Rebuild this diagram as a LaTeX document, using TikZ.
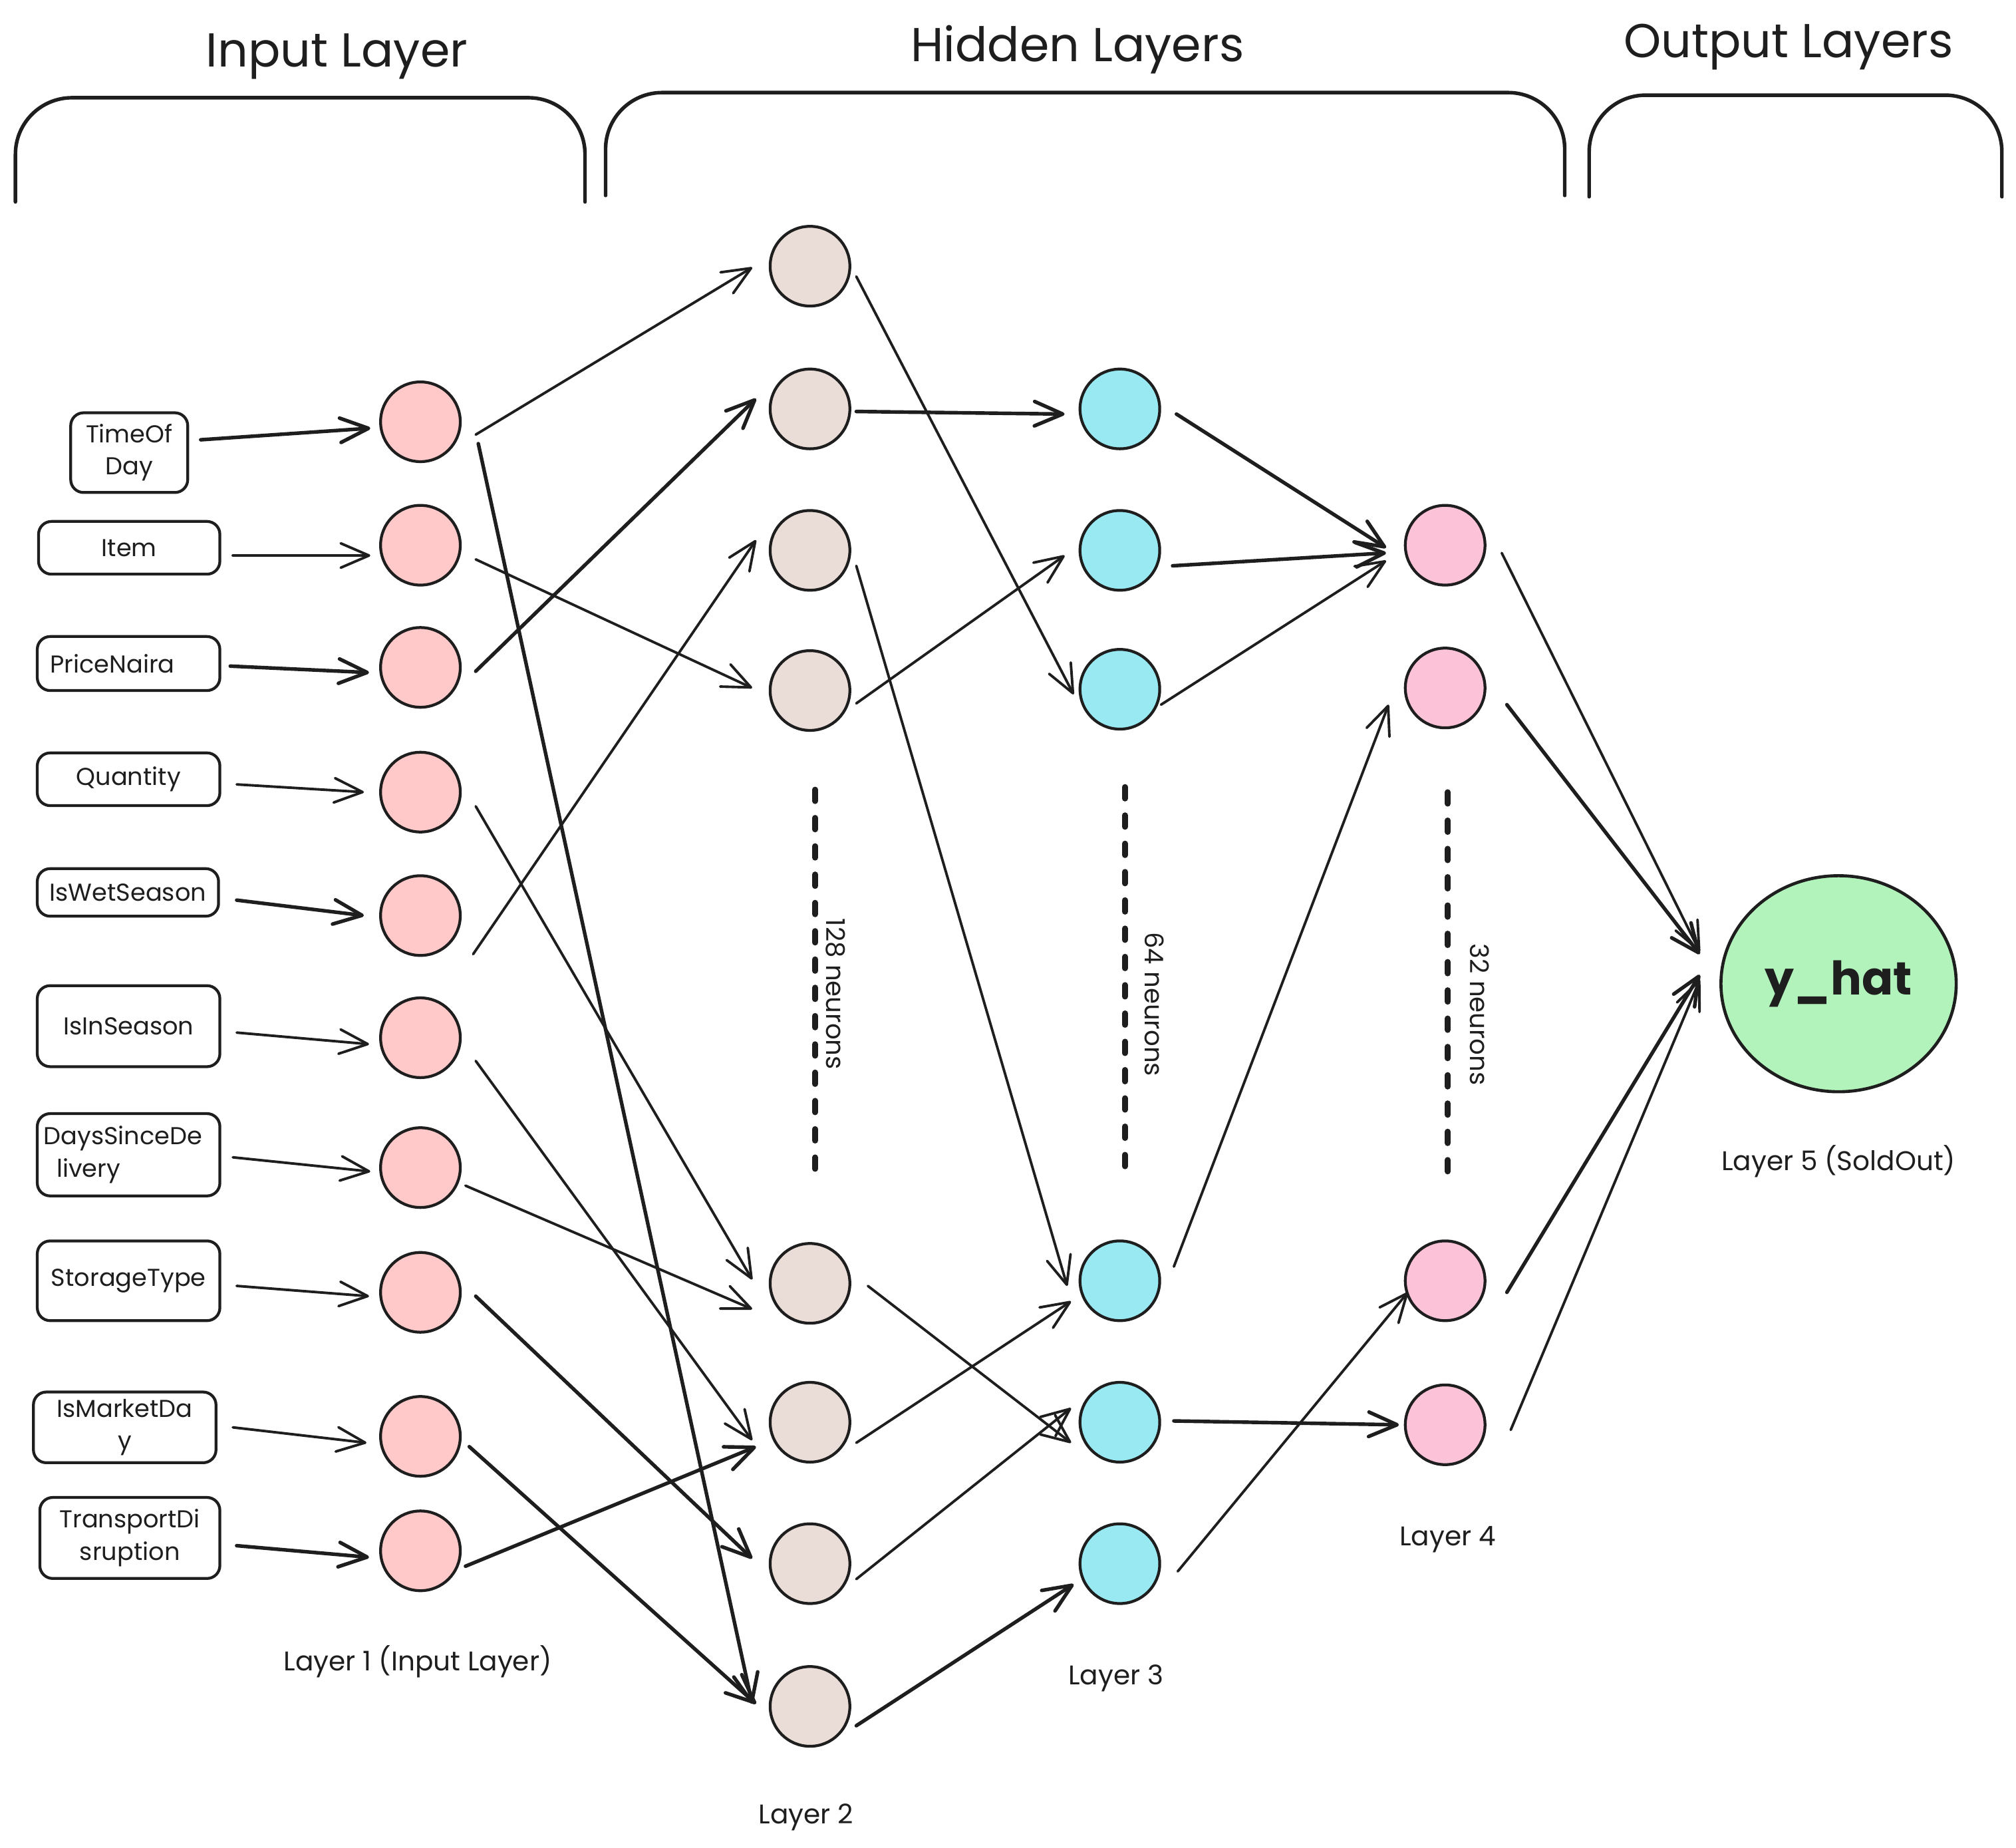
\documentclass[tikz,border=0pt]{standalone}
\usepackage{fontspec}
\setmainfont{Poppins}
\usetikzlibrary{arrows.meta,calc,shapes.geometric}
\definecolor{ink}{HTML}{1E1E1E}
\definecolor{lone}{HTML}{FFC9C9}
\definecolor{ltwo}{HTML}{EADDD7}
\definecolor{lthree}{HTML}{99E9F2}
\definecolor{lfour}{HTML}{FCC2D7}
\definecolor{lout}{HTML}{B2F2BB}
\newcommand{\nnarrow}[5][]{\draw[arr,#1] ($(#2)+(#3)$) -- ($(#4)+(#5)$);}
\begin{document}
\begin{tikzpicture}[x=1pt,y=-1pt,
  every node/.style={text=ink},
  neuron/.style={circle,draw=ink,line width=2.2pt,minimum size=62pt,inner sep=0pt},
  inbox/.style={draw=ink,line width=2.2pt,rounded corners=10pt,inner sep=0pt,align=center,font=\fontsize{19}{25}\selectfont},
  arr/.style={draw=ink,line width=2pt,line cap=round,-{Straight Barb[length=22pt,width=19pt,round]}},
  hvy/.style={line width=2.8pt},
  lbl/.style={font=\fontsize{21}{25}\selectfont},
  rlbl/.style={font=\fontsize{20}{24}\selectfont,rotate=-90},
  title/.style={font=\fontsize{37}{44}\selectfont,anchor=base},
  brace/.style={draw=ink,line width=2.8pt,rounded corners=44pt,line cap=round},
  dots/.style={draw=ink,line width=4.5pt,line cap=round,dash pattern=on 9pt off 13pt},
]
\useasboundingbox (0,0) rectangle (1568,1437);
\fill[white] (0,0) rectangle (1568,1437);

% titles and braces
\node[title] (ti) at (262,52) {Input Layer};
\node[title] (th) at (838,48) {Hidden Layers};
\node[title] (to) at (1391,45) {Output Layers};
\draw[brace] (12,157) -- (12,76) -- (455,76) -- (455,157);
\draw[brace] (471,152) -- (471,72) -- (1217,72) -- (1217,152);
\draw[brace] (1236,153) -- (1236,74) -- (1557,74) -- (1557,153);

% input boxes
\node[inbox,minimum width=91pt,minimum height=62pt] (b1) at (100.5,352) {TimeOf\\Day};
\node[inbox,minimum width=141pt,minimum height=41pt] (b2) at (100.5,426) {Item};
\node[inbox,minimum width=142pt,minimum height=42pt,text width=122pt,align=left] (b3) at (100,516) {PriceNaira};
\node[inbox,minimum width=142pt,minimum height=41pt] (b4) at (100,606) {Quantity};
\node[inbox,minimum width=141pt,minimum height=37pt] (b5) at (99.5,694) {IsWetSeason};
\node[inbox,minimum width=142pt,minimum height=63pt] (b6) at (100,798) {IsInSeason};
\node[inbox,minimum width=142pt,minimum height=64pt,text width=132pt,align=left] (b7) at (100,898) {DaysSinceDe\\\hspace*{10pt}livery};
\node[inbox,minimum width=142pt,minimum height=62pt] (b8) at (100,996) {StorageType};
\node[inbox,minimum width=142pt,minimum height=55pt] (b9) at (97,1110) {IsMarketDa\\y};
\node[inbox,minimum width=140pt,minimum height=63pt] (b10) at (101,1196) {TransportDi\\sruption};

% layer 1
\foreach \i/\y in {1/328,2/424,3/519,4/616,5/712,6/807,7/908,8/1005,9/1117,10/1206}
  \node[neuron,fill=lone] (a\i) at (327,\y) {};
% layer 2
\foreach \i/\y in {1/207,2/318,3/428,4/537,5/998,6/1106,7/1216,8/1327}
  \node[neuron,fill=ltwo] (h\i) at (630,\y) {};
% layer 3
\foreach \i/\y in {1/318,2/428,3/536,4/996,5/1106,6/1216}
  \node[neuron,fill=lthree] (g\i) at (871,\y) {};
% layer 4
\foreach \i/\y in {1/424,2/535,3/996,4/1108}
  \node[neuron,fill=lfour] (f\i) at (1124,\y) {};
% output
\node[ellipse,draw=ink,line width=2.4pt,fill=lout,minimum width=183pt,minimum height=168pt,inner sep=0pt,font=\fontsize{36}{40}\selectfont\bfseries] (o) at (1430,765) {y\_hat};

% dashed ellipsis lines and neuron counts
\draw[dots] (634,614) -- (634,909);
\draw[dots] (875,612) -- (875,907);
\draw[dots] (1126,616) -- (1126,911);
\node[rlbl] (t128) at (650,773) {128 neurons};
\node[rlbl] (t64) at (898,781) {64 neurons};
\node[rlbl] (t32) at (1151,789) {32 neurons};

% layer labels
\node[lbl] (l1) at (325,1292) {Layer 1 (Input Layer)};
\node[lbl] (l2) at (627,1413) {Layer 2};
\node[lbl] (l3) at (868,1305) {Layer 3};
\node[lbl] (l4) at (1126,1197) {Layer 4};
\node[lbl] (l5) at (1430,903) {Layer 5 (SoldOut)};

% inputs -> layer 1
\nnarrow[hvy]{b1.east}{9,-10}{a1}{-39,5}
\nnarrow{b2.east}{9,6}{a2}{-39,8}
\nnarrow[hvy]{b3.east}{7,2}{a3}{-40,4}
\nnarrow{b4.east}{12,4}{a4}{-44,0}
\nnarrow[hvy]{b5.east}{13,6}{a5}{-44,0}
\nnarrow{b6.east}{12,5}{a6}{-40,5}
\nnarrow{b7.east}{9,2}{a7}{-39,3}
\nnarrow{b8.east}{12,4}{a8}{-40,3}
\nnarrow{b9.east}{12,0}{a9}{-42,5}
\nnarrow[hvy]{b10.east}{12,6}{a10}{-40,5}

% layer 1 -> layer 2
\nnarrow{a1}{43,10}{h1}{-45,1}
\nnarrow[hvy]{a1}{45,17}{h8}{-45,-2}
\nnarrow{a2}{43,11}{h4}{-45,-2}
\nnarrow[hvy]{a3}{43,3}{h2}{-42,-8}
\nnarrow{a4}{43,11}{h5}{-45,-3}
\nnarrow{a5}{41,30}{h3}{-42,-8}
\nnarrow{a6}{43,18}{h6}{-45,14}
\nnarrow{a7}{35,14}{h5}{-45,20}
\nnarrow[hvy]{a8}{43,3}{h7}{-45,-4}
\nnarrow[hvy]{a9}{38,8}{h8}{-42,-2}
\nnarrow[hvy]{a10}{35,12}{h6}{-42,19}

% layer 2 -> layer 3
\nnarrow{h1}{36,8}{g3}{-36,4}
\nnarrow[hvy]{h2}{36,2}{g1}{-43,4}
\nnarrow{h3}{36,12}{g4}{-41,4}
\nnarrow{h4}{36,10}{g2}{-43,4}
\nnarrow{h5}{45,2}{g5}{-38,16}
\nnarrow{h6}{36,16}{g4}{-38,16}
\nnarrow{h7}{36,12}{g5}{-38,-11}
\nnarrow[hvy]{h8}{36,15}{g6}{-36,16}

% layer 3 -> layer 4
\nnarrow[hvy]{g1}{44,4}{f1}{-46,2}
\nnarrow[hvy]{g2}{41,12}{f1}{-46,6}
\nnarrow{g3}{32,12}{f1}{-46,12}
\nnarrow{g4}{42,-11}{f2}{-44,13}
\nnarrow[hvy]{g5}{42,-1}{f4}{-36,0}
\nnarrow{g6}{45,6}{f3}{-29,9}

% layer 4 -> output
\nnarrow{f1}{44,6}{o}{-108,-25}
\nnarrow[hvy]{f2}{48,13}{o}{-108,-23}
\nnarrow[hvy]{f3}{48,9}{o}{-108,-7}
\nnarrow{f4}{51,4}{o}{-108,-3}
\end{tikzpicture}
\end{document}
